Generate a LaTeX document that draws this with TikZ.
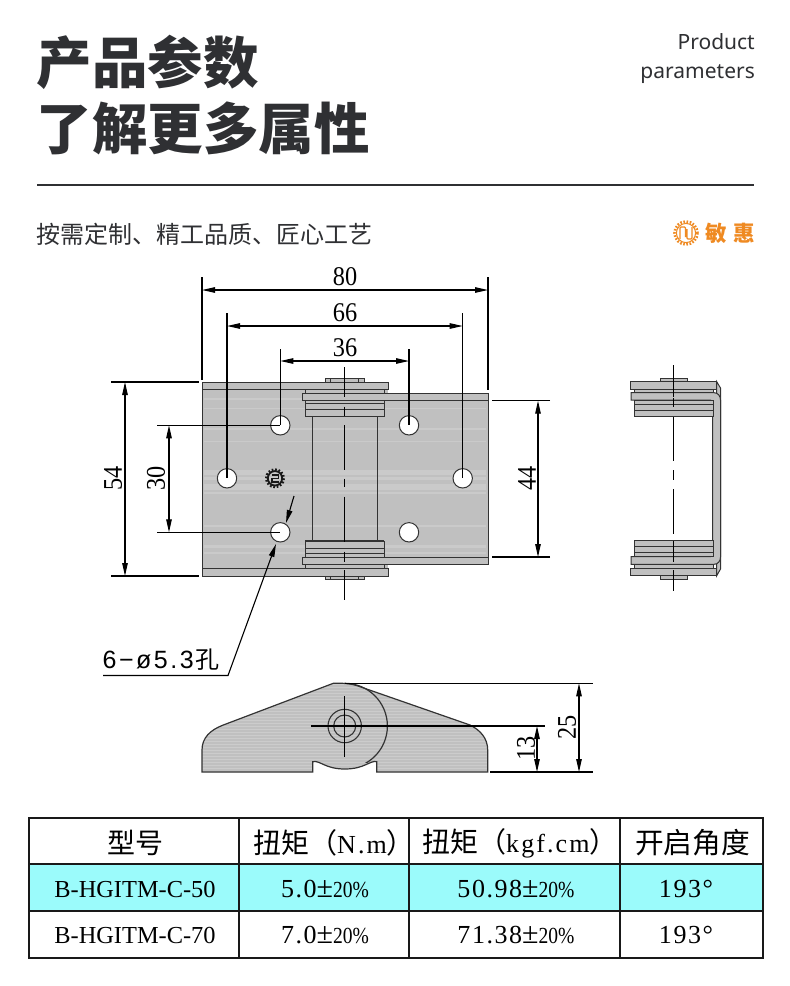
\documentclass[tikz,border=0pt]{standalone}
\usepackage{fontspec}
\setmainfont{Noto Sans CJK SC}
\newfontfamily\dimf[FakeStretch=.9]{Liberation Serif}
\newfontfamily\seriff{Liberation Serif}
\newfontfamily\spacedf[LetterSpace=8]{Liberation Serif}
\newfontfamily\numf[LetterSpace=6]{Liberation Serif}
\newfontfamily\pctf[FakeStretch=.85]{Liberation Serif}
\newfontfamily\callf[LetterSpace=10]{Liberation Sans}
\newfontfamily\latinf{Noto Sans}
\usetikzlibrary{arrows.meta}
\definecolor{inkdark}{HTML}{2F3033}
\definecolor{metal}{HTML}{C0C0C0}
\definecolor{edge}{HTML}{333333}
\definecolor{brand}{HTML}{EF8A22}
\definecolor{rowcyan}{HTML}{9BFBFB}
\newcommand{\fs}[1]{\fontsize{#1}{#1}\selectfont}
\newcommand{\pct}[1]{{\numf\fs{26}#1}{\seriff\fs{30}±}{\pctf\fs{23}20\%}}
\tikzset{
    part/.style={draw=edge, fill=metal, line width=1pt},
    dimline/.style={line width=1.1pt, {Stealth[inset=0pt,length=13pt,width=5.5pt]}-{Stealth[inset=0pt,length=13pt,width=5.5pt]}},
    extline/.style={line width=1.1pt},
    axisline/.style={line width=1.1pt},
    dimtext/.style={font=\dimf\fs{27}, inner sep=0pt},
    cell/.style={font=\fs{28}, inner sep=0pt},
    gridline/.style={line width=2.2pt, black!90}
}
\begin{document}
\begin{tikzpicture}[x=1pt,y=-1pt]
\useasboundingbox (0,0) rectangle (790,986);
\fill[white] (0,0) rectangle (790,986);
% heading
\node[inner sep=0pt, anchor=west, text=inkdark, font=\bfseries\fs{55.5}] (titleA) at (36.5,62) {产品参数};
\node[inner sep=0pt, anchor=west, text=inkdark, font=\bfseries\fs{55.5}] (titleB) at (36.5,128) {了解更多属性};
\node[inner sep=0pt, anchor=east, text=inkdark, font=\latinf\fs{21}] (enA) at (755,42) {Product};
\node[inner sep=0pt, anchor=east, text=inkdark, font=\latinf\fs{21}] (enB) at (755,74) {parameters};
\coordinate (ruleL) at (37,185);
\coordinate (ruleR) at (754,185);
\draw[line width=2pt, inkdark] (ruleL) -- (ruleR);
\node[inner sep=0pt, anchor=west, text=inkdark, font=\fs{24}] (slogan) at (36.5,234) {按需定制、精工品质、匠心工艺};
% brand mark
\draw[brand, line width=2.6pt, dash pattern=on 1.6pt off 1.6pt] (686,233) circle (11.5);
\draw[brand, line width=1pt] (686,233) circle (9.6);
\draw[brand, line width=1.3pt, rounded corners=1pt] (680,239) -- (680,227) -- (685.5,227) -- (685.5,237) (687,229) -- (687,239) -- (692,239) -- (692,227);
\node[inner sep=0pt, anchor=east, text=brand, font=\bfseries\fs{21.5}] (brandname) at (755,233) {敏\hspace{6pt}惠};
% top view: plates
\fill[metal] (202,382) rectangle (388,576);
\fill[metal] (302,393) rectangle (488,564);
\foreach \y/\h in {398/2, 408/1, 428/2, 441/1, 470/5, 477/3, 484/6, 492/2, 525/2, 545/3, 552/2}{
    \fill[white, opacity=.16] (204,\y) rectangle (486,\y+\h);
}
\draw[edge, line width=1pt] (388,393) -- (488,393) -- (488,564) -- (388,564);
\draw[edge, line width=1pt] (302,382) -- (202,382) -- (202,576) -- (302,576);
\draw[part] (202,382) rectangle (388,389.5);
\draw[part] (202,568) rectangle (388,576);
\draw[part] (325,378.7) rectangle (364.7,382);
\draw[part] (325,576) rectangle (364.7,579.3);
\foreach \x in {330.7,358.7}{
    \draw[edge, line width=.7pt] (\x,378.7) -- (\x,382) (\x,576) -- (\x,579.3);
}
\draw[part] (305.3,389.5) rectangle (384,393);
\draw[part] (305.3,564) rectangle (384,568);
\draw[part] (302,393) rectangle (488,400.7);
\draw[part] (302,557) rectangle (488,564);
\draw[part] (305.3,400.7) rectangle (384,416.7);
\draw[part] (305.3,541) rectangle (384,557);
\foreach \y in {403.5,409.5,548,553.5}{
    \draw[edge, line width=1pt] (305.3,\y) -- (384,\y);
}
\draw[edge, line width=1.3pt] (312.7,416.7) -- (312.7,541) (377.3,416.7) -- (377.3,541);
\draw[edge, line width=1.5pt] (305.3,416.7) -- (384,416.7) (305.3,541) -- (384,541);
% holes
\foreach \name/\x/\y in {holeA/280.3/425.3, holeB/409/425.3, holeC/227/478.3, holeD/462.7/478.3, holeE/280.3/532.3, holeF/409/532.3}{
    \coordinate (\name) at (\x,\y);
    \draw[edge, fill=white, line width=1pt] (\name) circle (9.7);
}
% gear stamp
\draw[black!90, line width=2.6pt, dash pattern=on 1.7pt off 1.7pt] (275,478.3) circle (8.7);
\draw[black!90, line width=1.8pt] (275,478.3) circle (7.2);
\draw[black!90, line width=1.1pt] (271.5,475) -- (278.5,475) -- (278.5,478.5) -- (272,478.5) -- (272,482) -- (278.5,482);
% centre lines
\foreach \a/\b in {367/397, 406.7/416, 425/470, 478.7/487.3, 496.7/541.7, 551.7/561.7, 570/600}{
    \draw[axisline] (344.7,\a) -- (344.7,\b);
}
% dimensions above
\foreach \name/\xa/\xb/\ya/\yb/\ytop/\yline/\val in {
    eighty/202/488/380/390/277/290/80,
    sixtysix/227/462.7/478.3/478.3/313/326/66,
    thirtysix/280.3/409/425.3/425.3/349/361/36}{
    \coordinate (\name La) at (\xa,\ytop);
    \coordinate (\name Lb) at (\xa,\ya);
    \coordinate (\name Ra) at (\xb,\ytop);
    \coordinate (\name Rb) at (\xb,\yb);
    \coordinate (\name Dl) at (\xa,\yline);
    \coordinate (\name Dr) at (\xb,\yline);
    \draw[extline] (\name La) -- (\name Lb) (\name Ra) -- (\name Rb);
    \draw[dimline] (\name Dl) -- (\name Dr);
    \node[dimtext] (\name) at (345,\yline-13) {\val};
}
% dimensions at the sides
\foreach \name/\xa/\xb/\ya/\yb/\xline/\xtext/\val in {
    fiftyfour/111/199/382/576/125/113/54,
    thirty/157/280.3/425.3/532.3/169/156/30,
    fortyfour/550/492/400.7/557/538/527/44}{
    \coordinate (\name Ta) at (\xa,\ya);
    \coordinate (\name Tb) at (\xb,\ya);
    \coordinate (\name Ba) at (\xa,\yb);
    \coordinate (\name Bb) at (\xb,\yb);
    \coordinate (\name Du) at (\xline,\ya);
    \coordinate (\name Dd) at (\xline,\yb);
    \draw[extline] (\name Ta) -- (\name Tb) (\name Ba) -- (\name Bb);
    \draw[dimline] (\name Du) -- (\name Dd);
    \node[dimtext, rotate=90] (\name) at (\xtext,478) {\val};
}
% hole callout
\node[inner sep=0pt, anchor=west, font=\callf\fs{25}] (holelabel) at (102.5,660) {6−ø5.3\hspace{2pt}{\fs{24}\rmfamily 孔}};
\coordinate (calloutL) at (103,675.5);
\coordinate (calloutK) at (228,675.5);
\coordinate (calloutT) at (276,544);
\coordinate (calloutU) at (294,496);
\coordinate (calloutV) at (286,523);
\draw[line width=1.1pt, -{Stealth[inset=0pt,length=13pt,width=5.5pt]}] (calloutL) -- (calloutK) -- (calloutT);
\draw[line width=1.1pt, -{Stealth[inset=0pt,length=13pt,width=5.5pt]}] (calloutU) -- (calloutV);
% side view
\draw[part] (660,378.3) rectangle (687.7,381.7);
\draw[part] (660,575.7) rectangle (687.7,579);
\draw[part] (630.7,381.7) rectangle (716.7,389.3);
\draw[part] (630.7,568) rectangle (716.7,575.7);
\draw[part] (716.7,381.7) -- (720.5,388) -- (720.5,569) -- (716.7,575.7) -- cycle;
\draw[part] (634.3,389.3) rectangle (713,392.7);
\draw[part] (634.3,564.3) rectangle (713,568);
\draw[part] (631,392.7) -- (714,392.7) .. controls (718,392.7) and (720.5,396) .. (720.5,400) -- (720.5,557) .. controls (720.5,561) and (718,564.3) .. (714,564.3) -- (631,564.3) -- (631,556.7) -- (710,556.7) .. controls (712,556.7) and (712.7,556) .. (712.7,554) -- (712.7,403) .. controls (712.7,401) and (712,400) .. (710,400) -- (631,400) -- cycle;
\draw[part] (634.3,400) rectangle (713,416.7);
\draw[part] (634.3,540.7) rectangle (713,556.7);
\foreach \y in {404,410,546.5,552.5}{
    \draw[edge, line width=1pt] (634.3,\y) -- (713,\y);
}
\draw[edge, line width=1.5pt] (634.3,416.7) -- (713,416.7) (634.3,540.7) -- (713,540.7);
\foreach \a/\b in {365/397, 398/407, 417/461, 470/480, 489/534, 541/562, 570/591}{
    \draw[axisline] (673.7,\a) -- (673.7,\b);
}
% end view
\begin{scope}
\clip (202,772) -- (202,750) .. controls (202,738) and (210,730) .. (223.3,725) -- (333.3,683.3) .. controls (338,683) and (350,683) .. (358,686) -- (470,725) .. controls (480,730) and (487.7,738) .. (487.7,750) -- (487.7,772) -- (376.7,772) -- (376.7,761.7) .. controls (370,760) and (365,769) .. (344.7,769) .. controls (325,769) and (320,760) .. (312.7,761.7) -- (312.7,772) -- cycle;
\fill[metal] (200,680) rectangle (490,775);
\foreach \y in {684,687,...,772}{
    \draw[white, opacity=.2, line width=1pt] (200,\y) -- (490,\y);
}
\end{scope}
\draw[edge, line width=1.2pt] (202,772) -- (202,750) .. controls (202,738) and (210,730) .. (223.3,725) -- (333.3,683.3) .. controls (338,683) and (350,683) .. (358,686) -- (470,725) .. controls (480,730) and (487.7,738) .. (487.7,750) -- (487.7,772) -- (376.7,772) -- (376.7,761.7) .. controls (370,760) and (365,769) .. (344.7,769) .. controls (325,769) and (320,760) .. (312.7,761.7) -- (312.7,772) -- cycle;
\begin{scope}
\clip (344.7,680) rectangle (392,762);
\draw[edge, line width=1.2pt] (344.7,726) circle (42.7);
\end{scope}
\coordinate (boreC) at (344.7,726);
\draw[edge, line width=1.1pt] (boreC) circle (16.7) (boreC) circle (11);
\coordinate (crossL) at (311,726);
\coordinate (crossT) at (344.7,696);
\coordinate (crossB) at (344.7,756.7);
\draw[axisline] (crossT) -- (crossB);
% end view dimensions
\coordinate (topA) at (345,683.3);
\coordinate (topB) at (593,683.3);
\coordinate (baseA) at (490,772);
\coordinate (baseB) at (593,772);
\coordinate (midB) at (545,726);
\draw[extline] (topA) -- (topB) (baseA) -- (baseB) (crossL) -- (midB);
\coordinate (dimUp) at (579,683.3);
\coordinate (dimDn) at (579,772);
\draw[dimline] (dimUp) -- (dimDn);
\node[dimtext, rotate=90] (twentyfive) at (567,727) {25};
\coordinate (smallUp) at (537,726);
\coordinate (smallDn) at (537,772);
\draw[dimline] (smallUp) -- (smallDn);
\node[dimtext, rotate=90] (thirteen) at (526,748) {13};
% table
\fill[rowcyan] (29,864) rectangle (763,911);
\foreach \name/\xa/\ya/\xb/\yb in {tabT/29/818/763/818, tabB/29/958/763/958, rowA/29/864/763/864, rowB/29/911/763/911, colL/29/818/29/958, colA/239/818/239/958, colB/409/818/409/958, colC/620/818/620/958, colR/763/818/763/958}{
    \coordinate (\name S) at (\xa,\ya);
    \coordinate (\name E) at (\xb,\yb);
    \draw[gridline, line cap=rect] (\name S) -- (\name E);
}
\node[cell] (headA) at (135,843) {型号};
\node[cell, anchor=west] (headB) at (253,843) {扭矩（{\spacedf\fs{26}N.m}）};
\node[cell, anchor=west] (headC) at (422,843) {扭矩（{\spacedf\fs{26}kgf.cm}）};
\node[cell, font=\fs{28.7}] (headD) at (692.5,843) {开启角度};
\foreach \y/\pre/\m/\kg in {889/50/5.0/50.98, 935/70/7.0/71.38}{
    \node[cell, font=\seriff\fs{24.4}] (model\pre) at (135,\y) {B-HGITM-C-\pre};
    \node[cell] (torque\pre) at (325,\y) {\pct{\m}};
    \node[cell] (torquekg\pre) at (516,\y) {\pct{\kg}};
    \node[cell, font=\numf\fs{26}] (angle\pre) at (686,\y) {193°};
}
\end{tikzpicture}
\end{document}
